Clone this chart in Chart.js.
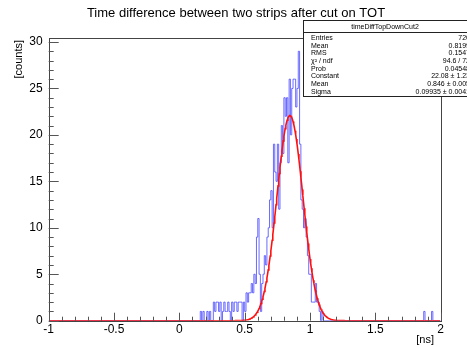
<!DOCTYPE html>
<html>
<head>
<meta charset="utf-8">
<script src="https://cdn.jsdelivr.net/npm/chart.js@4/dist/chart.umd.min.js"></script>
<style>
  html, body { margin: 0; padding: 0; background: #fff; }
  #wrap { width: 467px; height: 347px; }
</style>
</head>
<body>
<div id="wrap"><canvas id="chart1" width="467" height="347"></canvas></div>
<script>
// histogram: 0.01 ns bins, counts start at binStart
var binWidth = 0.01;
var binStart = 0.15;
var counts = [
    0, 1, 0, 1, 0, 0, 1, 0, 1, 0,      // 0.15 - 0.24
    0, 2, 1, 2, 2, 1, 2, 0, 1, 2,      // 0.25 - 0.34
    1, 1, 2, 1, 0, 2, 1, 2, 2, 1,      // 0.35 - 0.44
    2, 2, 2, 0, 2, 1, 3, 2, 3, 3,      // 0.45 - 0.54
    4, 3, 5, 4, 9, 11, 5, 1, 4, 5,     // 0.55 - 0.64
    7, 6, 9, 10, 13, 14, 10, 19, 16, 15, // 0.65 - 0.74
    19, 12, 17, 21, 18, 24, 22, 24, 17, 26, // 0.75 - 0.84
    20, 25, 26, 26, 23, 25, 29, 19, 13, 12, // 0.85 - 0.94
    10, 11, 9, 7, 5, 5, 2, 2, 2, 4,    // 0.95 - 1.04
    2, 2, 1, 0, 1, 0, 0, 0, 0, 0       // 1.05 - 1.14
];
var tailEdges = [1.87, 1.93];
var tailCounts = [1, 1];

// fit parameters from the stats box
var fitConstant = 22.08;
var fitMean = 0.846;
var fitSigma = 0.09935;

var xTicks = [-1, -0.5, 0, 0.5, 1, 1.5, 2];
var yTicks = [0, 5, 10, 15, 20, 25, 30];

var statsLabels = ['Entries', 'Mean', 'RMS', 'χ² / ndf', 'Prob', 'Constant', 'Mean', 'Sigma'];
var statsValues = ['720', '0.8199', '0.1547', '94.6 / 72', '0.04548', '22.08 ± 1.23', '0.846 ± 0.005', '0.09935 ± 0.0041'];

// step outline points (value held until next edge)
var histPoints = [{x: -1, y: 0}];
for (var i = 0; i < counts.length; i++) {
    histPoints.push({x: +(binStart + i * binWidth).toFixed(2), y: counts[i]});
}
histPoints.push({x: +(binStart + counts.length * binWidth).toFixed(2), y: 0});
for (var j = 0; j < tailEdges.length; j++) {
    histPoints.push({x: tailEdges[j], y: tailCounts[j]});
    histPoints.push({x: +(tailEdges[j] + binWidth).toFixed(2), y: 0});
}
histPoints.push({x: 2, y: 0});

var fitPoints = [];
for (var k = 0; k <= 600; k++) {
    var xv = -1 + k * 0.005;
    var z = (xv - fitMean) / fitSigma;
    fitPoints.push({x: xv, y: fitConstant * Math.exp(-0.5 * z * z)});
}

var FONT = '"Liberation Sans", Arial, Helvetica, sans-serif';

var rootPlugin = {
    id: 'rootStyle',
    afterDraw: function (chart) {
        var c = chart.ctx, a = chart.chartArea;
        var xs = chart.scales.x, ys = chart.scales.y;
        c.save();
        // frame
        c.strokeStyle = '#444';
        c.lineWidth = 1;
        c.strokeRect(Math.round(a.left) + 0.5, Math.round(a.top) + 0.5,
            Math.round(a.right - a.left), Math.round(a.bottom - a.top));
        // x ticks (inward)
        c.strokeStyle = '#555';
        c.beginPath();
        for (var t = -10; t <= 20; t++) {
            var px = Math.round(xs.getPixelForValue(t / 10)) + 0.5;
            var len = (t % 5 === 0) ? 8 : 4;
            c.moveTo(px, a.bottom);
            c.lineTo(px, a.bottom - len);
        }
        // y ticks (inward)
        for (var v = 0; v <= 30; v++) {
            var py = Math.round(ys.getPixelForValue(v)) + 0.5;
            var l2 = (v % 5 === 0) ? 10 : 5;
            c.moveTo(a.left, py);
            c.lineTo(a.left + l2, py);
        }
        c.stroke();

        // title
        c.fillStyle = '#000';
        c.font = '13px ' + FONT;
        c.textAlign = 'center';
        c.textBaseline = 'middle';
        c.fillText('Time difference between two strips after cut on TOT', 236, 13);

        // axis titles
        c.font = '11px ' + FONT;
        c.textAlign = 'right';
        c.fillText('[ns]', 434, 340);
        c.save();
        c.translate(19, 40);
        c.rotate(-Math.PI / 2);
        c.textAlign = 'right';
        c.fillText('[counts]', 0, 0);
        c.restore();

        // stats box
        var bx = 303.5, by = 20.5, bw = 170, bh = 76;
        c.fillStyle = '#fff';
        c.fillRect(bx, by, bw, bh);
        c.strokeStyle = '#222';
        c.strokeRect(bx, by, bw, bh);
        c.beginPath();
        c.moveTo(bx, 32.5);
        c.lineTo(bx + bw, 32.5);
        c.stroke();
        c.fillStyle = '#000';
        c.font = '7px ' + FONT;
        c.textAlign = 'center';
        c.fillText('timeDiffTopDownCut2', 385, 27);
        for (var r = 0; r < statsLabels.length; r++) {
            var ry = 38 + r * 7.7;
            c.textAlign = 'left';
            c.fillText(statsLabels[r], 311, ry);
            c.textAlign = 'right';
            c.fillText(statsValues[r], 470, ry);
        }
        c.restore();
    }
};

window.onload = function () {
    new Chart(document.getElementById('chart1'), {
        type: 'line',
        data: {
            datasets: [
                {
                    label: 'fit',
                    data: fitPoints,
                    borderColor: '#ff1010',
                    borderWidth: 1.6,
                    pointRadius: 0,
                    fill: false,
                    tension: 0
                },
                {
                    label: 'timeDiffTopDownCut2',
                    data: histPoints,
                    stepped: 'before',
                    borderColor: 'rgba(70,70,255,0.8)',
                    borderWidth: 1,
                    pointRadius: 0,
                    fill: false
                }
            ]
        },
        options: {
            responsive: false,
            animation: false,
            layout: { padding: { left: 0, right: 26.3, top: 37.8, bottom: 0 } },
            plugins: {
                legend: { display: false },
                title: { display: false },
                tooltip: { enabled: false }
            },
            scales: {
                x: {
                    type: 'linear',
                    min: -1,
                    max: 2,
                    grid: { display: false, drawTicks: false },
                    border: { display: false },
                    afterBuildTicks: function (s) { s.ticks = xTicks.map(function (v) { return {value: v}; }); },
                    afterFit: function (s) { s.height = 26.3; },
                    ticks: {
                        padding: 2,
                        color: '#000',
                        maxRotation: 0,
                        autoSkip: false,
                        font: { family: FONT, size: 12 },
                        callback: function (v) { return String(v); }
                    }
                },
                y: {
                    type: 'linear',
                    min: 0,
                    max: 30.45,
                    grid: { display: false, drawTicks: false },
                    border: { display: false },
                    afterBuildTicks: function (s) { s.ticks = yTicks.map(function (v) { return {value: v}; }); },
                    afterFit: function (s) { s.width = 48.7; },
                    ticks: {
                        padding: 6,
                        color: '#000',
                        font: { family: FONT, size: 12 },
                        callback: function (v) { return String(v); }
                    }
                }
            }
        },
        plugins: [rootPlugin]
    });
};
</script>
</body>
</html>
